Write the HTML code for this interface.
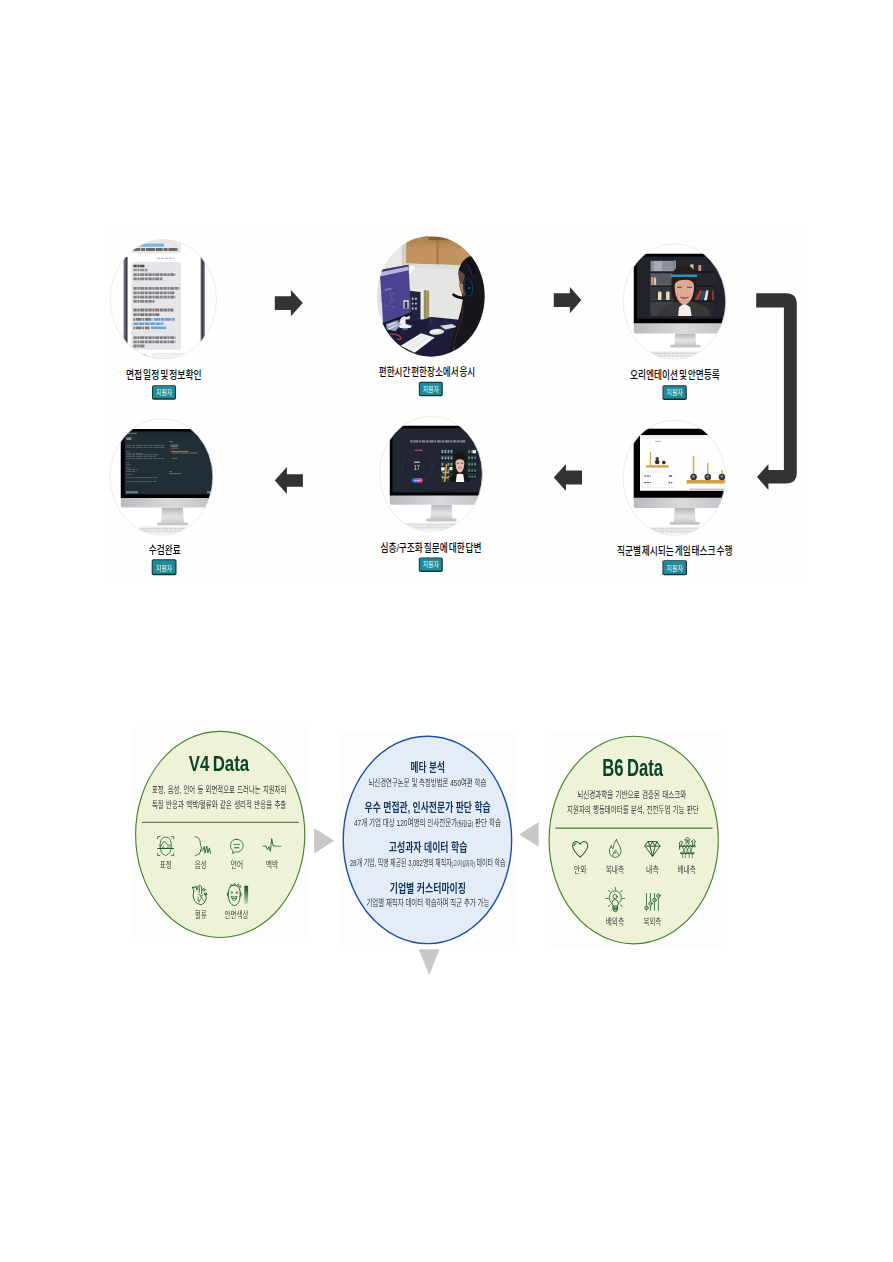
<!DOCTYPE html>
<html lang="ko">
<head>
<meta charset="utf-8">
<title>AI 역량검사 진행 절차 및 분석 데이터</title>
<style>
html,body{margin:0;padding:0;background:#fff;}
body{width:893px;height:1262px;overflow:hidden;position:relative;font-family:'Liberation Sans', 'Noto Sans CJK KR', 'NanumGothic', sans-serif;}
svg{position:absolute;left:0;top:0;display:block;}
svg text{font-family:'Liberation Sans', 'Noto Sans CJK KR', 'NanumGothic', sans-serif;white-space:pre;}
</style>
</head>
<body>
<svg width="893" height="1262" viewBox="0 0 893 1262">
<g opacity="0.999">
<!-- figure 1 : process flow -->
<defs>
<linearGradient id="silver" x1="0" y1="0" x2="1" y2="0"><stop offset="0" stop-color="#b9babd"/><stop offset="0.5" stop-color="#d9dadc"/><stop offset="1" stop-color="#bfc0c3"/></linearGradient>
<linearGradient id="stand" x1="0" y1="0" x2="0" y2="1"><stop offset="0" stop-color="#b4b5b8"/><stop offset="0.6" stop-color="#e4e4e6"/><stop offset="1" stop-color="#c9cacc"/></linearGradient>
<filter id="soft" x="-5%" y="-5%" width="110%" height="110%"><feGaussianBlur stdDeviation="0.45"/></filter>
<filter id="soft2" x="-5%" y="-5%" width="110%" height="110%"><feGaussianBlur stdDeviation="0.8"/></filter>
<clipPath id="cp1"><ellipse cx="163.3" cy="299.2" rx="53.2" ry="59.8"/></clipPath>
<clipPath id="cp2"><ellipse cx="430.8" cy="296.3" rx="53.9" ry="60.4"/></clipPath>
<clipPath id="cp3"><ellipse cx="674.5" cy="301.5" rx="51.3" ry="57.8"/></clipPath>
<clipPath id="cp4"><ellipse cx="161.5" cy="477.0" rx="51.4" ry="58.3"/></clipPath>
<clipPath id="cp5"><ellipse cx="431.0" cy="474.0" rx="51.4" ry="57.7"/></clipPath>
<clipPath id="cp6"><ellipse cx="674.3" cy="477.8" rx="51.2" ry="57.7"/></clipPath>
</defs>
<rect x="104" y="229.5" width="702" height="349.5" fill="#fefefe"/>
<g clip-path="url(#cp1)"><g filter="url(#soft)"><rect x="108.10000000000001" y="237.39999999999998" width="110.4" height="123.6" fill="#fdfdfd"/><rect x="123.6" y="257" width="4.2" height="92" fill="#6b6d78"/><rect x="125.6" y="257" width="1.6" height="92" fill="#3c3e48"/><rect x="200.4" y="257" width="4.4" height="92" fill="#6b6d78"/><rect x="201.6" y="257" width="1.8" height="92" fill="#3c3e48"/><rect x="127.8" y="236" width="72.6" height="130" fill="#fff"/><rect x="131.5" y="234" width="49.5" height="19.6" rx="3" fill="#e6e6eb"/><rect x="135" y="243.6" width="29" height="3.2" fill="#6fa8e6" opacity="0.85"/><path d="M150 237.6H173" stroke="#555" stroke-width="1.6" stroke-dasharray="5 1 3 1"/><path d="M133.4 249.6H178" stroke="#333" stroke-width="3" stroke-dasharray="7 0.8 4 0.8 9 0.8" opacity="0.7"/><path d="M157 258.3H174" stroke="#bbb" stroke-width="1.2" stroke-dasharray="3 1"/><rect x="131.2" y="262" width="49.8" height="88" rx="3.2" fill="#e5e5ea"/><path d="M133.4 266.0h11" stroke="#1a1a1a" stroke-width="2.6" stroke-dasharray="3.4 0.6 2.2 0.6 4.2 0.6 2.8 0.6" opacity="0.75"/><path d="M133.4 270.0h14" stroke="#444" stroke-width="2.4" stroke-dasharray="3.4 0.6 2.2 0.6 4.2 0.6 2.8 0.6" opacity="0.5"/><path d="M133.4 274.6h42" stroke="#333" stroke-width="2.8" stroke-dasharray="3.4 0.6 2.2 0.6 4.2 0.6 2.8 0.6" opacity="0.55"/><path d="M133.4 278.9h29" stroke="#333" stroke-width="2.8" stroke-dasharray="3.4 0.6 2.2 0.6 4.2 0.6 2.8 0.6" opacity="0.55"/><path d="M133.4 288.4h46" stroke="#333" stroke-width="2.8" stroke-dasharray="3.4 0.6 2.2 0.6 4.2 0.6 2.8 0.6" opacity="0.55"/><path d="M133.4 292.8h41" stroke="#333" stroke-width="2.8" stroke-dasharray="3.4 0.6 2.2 0.6 4.2 0.6 2.8 0.6" opacity="0.55"/><path d="M133.4 297.2h42" stroke="#333" stroke-width="2.8" stroke-dasharray="3.4 0.6 2.2 0.6 4.2 0.6 2.8 0.6" opacity="0.55"/><path d="M133.4 301.4h21" stroke="#333" stroke-width="2.8" stroke-dasharray="3.4 0.6 2.2 0.6 4.2 0.6 2.8 0.6" opacity="0.55"/><path d="M133.4 310.0h40" stroke="#333" stroke-width="2.8" stroke-dasharray="3.4 0.6 2.2 0.6 4.2 0.6 2.8 0.6" opacity="0.6"/><path d="M133.4 314.6h26" stroke="#333" stroke-width="2.8" stroke-dasharray="3.4 0.6 2.2 0.6 4.2 0.6 2.8 0.6" opacity="0.6"/><path d="M133.4 337.6h42" stroke="#333" stroke-width="2.8" stroke-dasharray="3.4 0.6 2.2 0.6 4.2 0.6 2.8 0.6" opacity="0.55"/><path d="M133.4 341.8h42" stroke="#333" stroke-width="2.8" stroke-dasharray="3.4 0.6 2.2 0.6 4.2 0.6 2.8 0.6" opacity="0.55"/><path d="M133.4 346.0h11" stroke="#333" stroke-width="2.8" stroke-dasharray="3.4 0.6 2.2 0.6 4.2 0.6 2.8 0.6" opacity="0.55"/><path d="M133.4 319.4h19" stroke="#333" stroke-width="2.8" stroke-dasharray="1.5 0.8 6 0.8" opacity="0.6"/><path d="M154 319.4h20.6" stroke="#3b8ad8" stroke-width="2.6" stroke-dasharray="6 0.6 4 0.6" opacity="0.75"/><path d="M133.4 323.8h30" stroke="#3b8ad8" stroke-width="2.6" stroke-dasharray="5 0.6" opacity="0.75"/><path d="M133.4 327.8h16" stroke="#333" stroke-width="2.8" stroke-dasharray="1.5 0.8 6 0.8" opacity="0.6"/><path d="M151 327.8h15" stroke="#3b8ad8" stroke-width="2.6" opacity="0.7"/><rect x="152" y="353.4" width="36" height="6" rx="3" fill="#f1f1f3" stroke="#d8d8dc" stroke-width="0.5"/><path d="M140 355.5q5 -2 9 3" stroke="#8a8d96" stroke-width="1.6" fill="none"/></g></g><ellipse cx="163.3" cy="299.2" rx="53.2" ry="59.8" fill="none" stroke="#e6e6e6" stroke-width="0.8"/>
<text x="126.0" y="378.7" textLength="75.6" lengthAdjust="spacingAndGlyphs" font-size="10.9" font-weight="500" fill="#0a0a0a" word-spacing="-1.9">면접 일정 및 정보확인</text>
<rect x="152.0" y="385.2" width="24.0" height="14.5" rx="1.8" fill="#1b2c31"/><rect x="152.9" y="386.09999999999997" width="22.0" height="12.2" rx="0.9" fill="#1c8c99"/><text x="156.0" y="395.0" textLength="16.2" lengthAdjust="spacingAndGlyphs" font-size="7.4" font-weight="400" fill="#fff" >지원자</text>
<path d="M274.8 296.20000000000005H290.9V289.90000000000003L302.8 303.1L290.9 316.3V310.0H274.8Z" fill="#333"/>
<g clip-path="url(#cp2)"><g filter="url(#soft)"><g transform="translate(370 230) scale(0.134378)"><rect x="0" y="0" width="893" height="967" fill="#e3e3e0"/><rect x="0" y="0" width="272" height="300" fill="#e9e9e6"/><rect x="236" y="0" width="36" height="262" fill="#cfd0cc"/><path d="M270 0H893V268L270 250Z" fill="#bb8d5a"/><path d="M270 130H893V268L270 250Z" fill="#c3945f"/><path d="M270 0H893V100H270Z" fill="#ad7f4d" opacity="0.55"/><rect x="492" y="0" width="22" height="262" fill="#a87947" opacity="0.8"/><rect x="436" y="30" width="180" height="22" fill="#e6dccb" opacity="0.9"/><rect x="436" y="50" width="300" height="26" fill="#7d5530" opacity="0.8"/><path d="M270 250L893 268V700H270Z" fill="#e5e5e3"/><path d="M270 250L893 268V300L270 280Z" fill="#d8d8d5" opacity="0.7"/><path d="M300 262L332 272L306 326L290 318Z" fill="#ffffff"/><path d="M0 700L300 662L460 648L893 690V967H0Z" fill="#1d1f37"/><path d="M440 650L470 648L478 700L440 700Z" fill="#2a2d4a"/><path d="M480 660L700 676L560 760L420 740Z" fill="#23264a" opacity="0.7"/><path d="M330 436L402 444V664L330 670Z" fill="#ecebe6"/><path d="M400 446L420 448V660L400 664Z" fill="#7f9a58"/><path d="M418 448L440 452V652L418 660Z" fill="#a5925e"/><path d="M296 452L376 462V672L296 676Z" fill="#22253c"/><path d="M318 505v100M342 505v100" stroke="#d6d6da" stroke-width="12" stroke-dasharray="14 22"/><path d="M98 690L308 606L312 630L104 716Z" fill="#12132a"/><path d="M72 298L286 258L306 610L98 692Z" fill="#4c4390"/><path d="M72 298L286 258L288 300L74 346Z" fill="#b9b4e6"/><path d="M72 298L286 258L287 272L73 314Z" fill="#3b3a6a"/><ellipse cx="120" cy="505" rx="38" ry="62" fill="none" stroke="#7d74c4" stroke-width="5" stroke-dasharray="12 6"/><path d="M112 450Q140 430 160 440" stroke="#c9c6ee" stroke-width="5" fill="none"/><path d="M172 470v130" stroke="#8a82c8" stroke-width="6" stroke-dasharray="10 40"/><rect x="248" y="522" width="40" height="62" fill="#cfd0e0"/><rect x="258" y="534" width="20" height="48" fill="#34344a"/><path d="M236 650L262 640L266 700L312 712L300 730L224 730L208 712Z" fill="#eef0f6"/><path d="M120 700L200 672L232 700L190 752L126 740Z" fill="#a9b4cc" opacity="0.9"/><path d="M130 712L190 690M140 736L200 706" stroke="#e6ecf6" stroke-width="8"/><path d="M240 736h40" stroke="#8ab6e0" stroke-width="8"/><path d="M150 775Q210 770 230 800Q232 822 200 812" stroke="#c43a3a" stroke-width="9" fill="none"/><path d="M228 862L380 768L482 800L332 914Z" fill="#f2f2f2"/><path d="M262 866L400 782M296 886L436 794" stroke="#dcdce0" stroke-width="6"/><path d="M520 712L610 700L648 722L560 740Z" fill="#d9dad8"/><ellipse cx="496" cy="758" rx="56" ry="22" transform="rotate(-4 496 758)" fill="#e2e3e1"/><ellipse cx="486" cy="752" rx="36" ry="11" transform="rotate(-4 486 752)" fill="#f4f4f3"/><path d="M742 196Q690 214 662 290Q650 330 672 372L690 520Q680 600 650 690Q610 790 600 870L560 967H893V196Z" fill="#19181b"/><path d="M664 300Q652 340 668 392Q660 420 672 444L700 500L716 470L704 330Z" fill="#5e463d"/><path d="M660 396Q672 420 674 450L692 474L696 404Z" fill="#a07c6a"/><path d="M690 560Q700 640 660 720Q640 780 620 860" stroke="#4a2a22" stroke-width="10" fill="none" opacity="0.7"/><path d="M724 226Q760 240 776 330" stroke="#0b0c12" stroke-width="34" fill="none"/><path d="M716 250Q748 270 762 340" stroke="#24469a" stroke-width="5" fill="none" opacity="0.8"/><ellipse cx="736" cy="420" rx="42" ry="82" transform="rotate(-6 736 420)" fill="#101218"/><ellipse cx="732" cy="424" rx="32" ry="68" transform="rotate(-6 732 424)" fill="none" stroke="#27499c" stroke-width="6" opacity="0.85"/><circle cx="738" cy="432" r="6" fill="#9aa0b4"/><path d="M716 506Q660 508 622 482" stroke="#0c0d12" stroke-width="20" fill="none" stroke-linecap="round"/><path d="M626 870Q618 900 624 930" stroke="#2b5ac0" stroke-width="6" fill="none"/></g></g></g>
<text x="378.8" y="375.7" textLength="96.4" lengthAdjust="spacingAndGlyphs" font-size="10.9" font-weight="500" fill="#0a0a0a" word-spacing="-1.9">편한시간 편한장소에서 응시</text>
<rect x="418.8" y="381.8" width="24.0" height="14.5" rx="1.8" fill="#1b2c31"/><rect x="419.7" y="382.7" width="22.0" height="12.2" rx="0.9" fill="#1c8c99"/><text x="422.7" y="391.6" textLength="16.2" lengthAdjust="spacingAndGlyphs" font-size="7.4" font-weight="400" fill="#fff" >지원자</text>
<path d="M553.8 293.20000000000005H569.9V286.90000000000003L581.4 300.1L569.9 313.3V307.0H553.8Z" fill="#333"/>
<g clip-path="url(#cp3)"><g filter="url(#soft)"><rect x="621.2" y="241.7" width="106.6" height="119.6" fill="#fff"/><rect x="645" y="351.4" width="55" height="6.400000000000034" rx="1" fill="#ececee"/><path d="M646 353.4H699M646 355.79999999999995H699" stroke="#c9cace" stroke-width="1.1" stroke-dasharray="1.6 1"/><path d="M675.2 333.6H695.4L696.1999999999999 345.2H674.4000000000001Z" fill="url(#stand)"/><rect x="670.2" y="344.79999999999995" width="30.199999999999932" height="2.8" rx="1" fill="#c3c4c7"/><rect x="633.8" y="253.8" width="97.0" height="79.80000000000001" rx="2.2" fill="url(#silver)"/><path d="M633.8 256.0Q633.8 253.8 636.0 253.8H730.8V323.3H633.8Z" fill="#050506"/><g transform="translate(615 240) scale(0.134378)"><rect x="164" y="124" width="740" height="462" fill="#21222d"/><rect x="262" y="152" width="474" height="414" fill="#26282d"/><rect x="262" y="152" width="180" height="414" fill="#3c4046"/><rect x="266" y="156" width="172" height="76" fill="#8e9298"/><rect x="290" y="156" width="60" height="76" fill="#b4b8bc" opacity="0.7"/><rect x="266" y="250" width="172" height="86" fill="#555a60"/><rect x="266" y="352" width="172" height="94" fill="#33363b"/><rect x="440" y="152" width="14" height="90" fill="#8a8e94"/><path d="M262 238H736M262 342H736M262 452H736" stroke="#14151a" stroke-width="12"/><path d="M262 232H440M262 336H440M262 446H440" stroke="#a9adb2" stroke-width="4" opacity="0.6"/><rect x="268" y="276" width="18" height="58" fill="#c79a78"/><rect x="290" y="280" width="16" height="54" fill="#d8c9b4"/><rect x="320" y="384" width="26" height="62" rx="8" fill="#e6e2b8"/><rect x="380" y="384" width="26" height="62" rx="8" fill="#e6e2b8"/><rect x="560" y="180" width="24" height="46" rx="8" fill="#cfc9a0"/><rect x="620" y="186" width="22" height="44" rx="6" fill="#d09070"/><path d="M590 446l40 -72l22 6l-30 68z" fill="#9a3c2c"/><path d="M628 448l30 -72l20 4l-22 68z" fill="#2f4a78"/><path d="M662 448l18 -74l16 2l-12 72z" fill="#ece8dc"/><rect x="722" y="376" width="12" height="72" fill="#a03c30"/><path d="M322 566Q330 490 420 470L470 450H560L612 470Q700 490 712 566Z" fill="#38383b"/><path d="M470 566L476 500L516 470L560 500L570 566Z" fill="#f3efea"/><path d="M420 330Q416 190 516 186Q612 190 606 330Q612 430 580 462H452Q414 430 420 330Z" fill="#2a1f1d"/><path d="M444 350Q444 280 516 278Q588 280 588 350Q588 420 552 462Q516 500 480 462Q444 420 444 350Z" fill="#dcaa94"/><path d="M440 330Q450 250 520 262Q580 256 592 330Q560 290 516 298Q470 292 440 330Z" fill="#2a1f1d"/><path d="M486 426Q516 444 546 426Q516 436 486 426Z" fill="#b4463f" stroke="#b4463f" stroke-width="6"/><path d="M462 352h36M536 352h36" stroke="#5a4038" stroke-width="8"/><path d="M470 380l14 10M562 380l-14 10M516 350v30" stroke="#e8eef2" stroke-width="5" stroke-dasharray="5 5" opacity="0.8"/><rect x="415" y="257" width="196" height="18" fill="#1aa3bd"/></g></g></g><ellipse cx="674.5" cy="301.5" rx="51.3" ry="57.8" fill="none" stroke="#e6e6e6" stroke-width="0.8"/>
<text x="630.0" y="378.7" textLength="89.8" lengthAdjust="spacingAndGlyphs" font-size="10.9" font-weight="500" fill="#0a0a0a" word-spacing="-1.9">오리엔테이션 및 안면등록</text>
<rect x="662.5" y="385.3" width="24.3" height="14.7" rx="1.8" fill="#1b2c31"/><rect x="663.4" y="386.2" width="22.3" height="12.399999999999999" rx="0.9" fill="#1c8c99"/><text x="666.5" y="395.3" textLength="16.2" lengthAdjust="spacingAndGlyphs" font-size="7.4" font-weight="400" fill="#fff" >지원자</text>
<path d="M756.2 293.2H785.8Q796.8 293.2 796.8 304.2V472.6Q796.8 483.6 785.8 483.6H768.4V490L757 477L768.4 463.9V470.1H783.9V307.4H756.2Z" fill="#333"/>
<g clip-path="url(#cp6)"><g filter="url(#soft)"><rect x="621.0999999999999" y="418.1" width="106.4" height="119.4" fill="#fff"/><rect x="651" y="526.8" width="49" height="7.0" rx="1" fill="#ececee"/><path d="M652 528.8H699M652 531.1999999999999H699" stroke="#c9cace" stroke-width="1.1" stroke-dasharray="1.6 1"/><path d="M674.6 508.0H694.8L695.5999999999999 522.4H673.8000000000001Z" fill="url(#stand)"/><rect x="669.6" y="522.0" width="30.199999999999932" height="2.8" rx="1" fill="#c3c4c7"/><rect x="633.7" y="428.8" width="96.79999999999995" height="79.19999999999999" rx="2.2" fill="url(#silver)"/><path d="M633.7 431.0Q633.7 428.8 635.9000000000001 428.8H730.5V497.8H633.7Z" fill="#050506"/><rect x="640" y="435.2" width="92" height="55.6" fill="#fdfdfd"/><rect x="640" y="435.2" width="92" height="3.2" fill="#f1f1f1"/><path d="M655 441.4h6" stroke="#999" stroke-width="0.8"/><rect x="646.2" y="465.2" width="22.4" height="2.4" fill="#d3a24a"/><rect x="649.8" y="452" width="1.3" height="13.4" fill="#d8ab55"/><circle cx="657.2" cy="462" r="2.3" fill="#2b2d33"/><circle cx="657.2" cy="458.6" r="1.7" fill="#3a3c42"/><circle cx="663.8" cy="462.6" r="1.8" fill="#2b2d33"/><rect x="642.6" y="472" width="31" height="15.6" fill="#fff" stroke="#e3e3e6" stroke-width="0.5"/><path d="M644 476h7M644 482.6h7" stroke="#555" stroke-width="1" stroke-dasharray="2.4 0.6"/><path d="M669 476h3" stroke="#555" stroke-width="1.4"/><path d="M668.6 482.6h1.6" stroke="#2a90d8" stroke-width="2"/><path d="M671 482.6h1.3" stroke="#555" stroke-width="1.2"/><rect x="686.6" y="480" width="46" height="3.6" fill="#d0a04a"/><rect x="692.8" y="456" width="1.5" height="24" fill="#d8ab55"/><rect x="707" y="463" width="1.5" height="17" fill="#d8ab55"/><rect x="721.4" y="470" width="1.5" height="10" fill="#d8ab55"/><circle cx="693.6" cy="477" r="3.3" fill="#34363c"/><circle cx="707.8" cy="477" r="3.3" fill="#34363c"/><circle cx="722" cy="477" r="3.3" fill="#34363c"/><circle cx="693.4" cy="476.4" r="1.3" fill="#8a8d94"/><circle cx="707.6" cy="476.4" r="1.3" fill="#8a8d94"/><circle cx="721.8" cy="476.4" r="1.3" fill="#8a8d94"/><path d="M690 489.2h42" stroke="#777" stroke-width="0.8" stroke-dasharray="2 0.6"/></g></g><ellipse cx="674.3" cy="477.8" rx="51.2" ry="57.7" fill="none" stroke="#e6e6e6" stroke-width="0.8"/>
<text x="616.9" y="554.9" textLength="115.6" lengthAdjust="spacingAndGlyphs" font-size="10.9" font-weight="500" fill="#0a0a0a" word-spacing="-1.9">직군별 제시되는 게임 태스크 수행</text>
<rect x="662.4" y="560.2" width="24.6" height="15.1" rx="1.8" fill="#1b2c31"/><rect x="663.3" y="561.1" width="22.6" height="12.8" rx="0.9" fill="#1c8c99"/><text x="666.6" y="570.6" textLength="16.2" lengthAdjust="spacingAndGlyphs" font-size="7.4" font-weight="400" fill="#fff" >지원자</text>
<g transform="translate(1135.8 0) scale(-1 1)"><path d="M553.8 470.6H569.9V464.1L582.0 477.5L569.9 490.9V484.4H553.8Z" fill="#333"/></g>
<g clip-path="url(#cp5)"><g filter="url(#soft)"><rect x="377.6" y="414.3" width="106.8" height="119.4" fill="#fff"/><rect x="404" y="522.8" width="52" height="7.2000000000000455" rx="1" fill="#ececee"/><path d="M405 524.8H455M405 527.1999999999999H455" stroke="#c9cace" stroke-width="1.1" stroke-dasharray="1.6 1"/><path d="M431.4 504.8H451.6L452.40000000000003 519.0H430.59999999999997Z" fill="url(#stand)"/><rect x="426.4" y="518.6" width="30.200000000000045" height="2.8" rx="1" fill="#c3c4c7"/><rect x="389.8" y="425.7" width="97.59999999999997" height="79.10000000000002" rx="2.2" fill="url(#silver)"/><path d="M389.8 427.9Q389.8 425.7 392.0 425.7H487.4V495.4H389.8Z" fill="#050506"/><g transform="translate(395 435) scale(0.100784)"><rect x="-24" y="-65" width="960" height="634" fill="#232630"/><path d="M150 64H700" stroke="#dcdde2" stroke-width="22" stroke-dasharray="26 8 44 8 18 8 36 8" opacity="0.5"/><circle cx="218" cy="300" r="150" fill="none" stroke="#3f6088" stroke-width="7" stroke-dasharray="8 14" opacity="0.9"/><path d="M150 440Q218 480 290 440" stroke="#232630" stroke-width="40" fill="none"/><path d="M196 156Q230 146 262 152" stroke="#d86a78" stroke-width="8" fill="none"/><path d="M262 140v22" stroke="#e0566a" stroke-width="7"/><rect x="190" y="262" width="56" height="15" fill="#c4c7d0" opacity="0.85"/><text x="187" y="348" textLength="60" lengthAdjust="spacingAndGlyphs" font-size="76" font-weight="400" fill="#e6e8ee">17</text><rect x="168" y="430" width="108" height="42" rx="21" fill="#3f6ee0"/><path d="M222 430h33a21 21 0 0 1 0 42h-33z" fill="#e0506a"/><rect x="200" y="430" width="40" height="42" fill="#8a5fb0"/><path d="M196 451h52" stroke="#f1f1f6" stroke-width="10" stroke-dasharray="14 5" opacity="0.8"/><rect x="455" y="140" width="352" height="326" fill="#18242b"/><rect x="455" y="140" width="120" height="326" fill="#22343c"/><rect x="720" y="140" width="87" height="326" fill="#1f3038"/><path d="M470 150v300M500 150v120M530 150v300M560 150v180" stroke="#b9c4c8" stroke-width="16" stroke-dasharray="34 30" opacity="0.75"/><path d="M735 150v300M765 150v300M795 150v300" stroke="#9fb0b8" stroke-width="14" stroke-dasharray="30 34" opacity="0.7"/><rect x="458" y="320" width="36" height="30" fill="#f2f2ee"/><rect x="540" y="318" width="30" height="30" fill="#e6e8e4"/><rect x="770" y="150" width="34" height="36" fill="#e8ece8"/><path d="M455 190H580M455 250H580M455 310H580M455 370H580M455 430H580M720 190H807M720 250H807M720 310H807M720 370H807M720 430H807" stroke="#0f181c" stroke-width="12"/><path d="M512 290L492 466M470 372H540M466 424H532" stroke="#c9a458" stroke-width="15"/><path d="M540 466Q548 400 600 384L640 360L690 384Q740 400 748 466Z" fill="#121317"/><path d="M604 466L612 392L644 368L678 392L688 466Z" fill="#f6f4f1"/><path d="M584 270Q580 170 644 166Q708 170 704 270Q708 350 690 384H598Q580 350 584 270Z" fill="#1a1415"/><path d="M600 280Q600 220 644 218Q688 220 688 280Q688 330 666 362Q644 384 622 362Q600 330 600 280Z" fill="#e4bda6"/><path d="M598 262Q612 200 650 214Q684 206 692 262Q664 236 644 240Q620 236 598 262Z" fill="#1a1415"/><path d="M626 322Q644 342 664 322Z" fill="#fff" stroke="#b0504e" stroke-width="5"/><path d="M612 280h24M654 280h24" stroke="#4a3430" stroke-width="7"/></g></g></g><ellipse cx="431.0" cy="474.0" rx="51.4" ry="57.7" fill="none" stroke="#e6e6e6" stroke-width="0.8"/>
<text x="380.4" y="551.7" textLength="101.2" lengthAdjust="spacingAndGlyphs" font-size="10.9" font-weight="500" fill="#0a0a0a" word-spacing="-1.9">심층/구조화 질문에 대한 답변</text>
<rect x="418.8" y="557.4" width="24.0" height="14.7" rx="1.8" fill="#1b2c31"/><rect x="419.7" y="558.3" width="22.0" height="12.399999999999999" rx="0.9" fill="#1c8c99"/><text x="422.7" y="567.4" textLength="16.2" lengthAdjust="spacingAndGlyphs" font-size="7.4" font-weight="400" fill="#fff" >지원자</text>
<g transform="translate(577.7 0) scale(-1 1)"><path d="M274.8 474.3H290.8V467.0L302.9 480.5L290.8 494.0V486.7H274.8Z" fill="#333"/></g>
<g clip-path="url(#cp4)"><g filter="url(#soft)"><rect x="108.1" y="416.7" width="106.8" height="120.6" fill="#fff"/><rect x="139.4" y="526.6" width="47.599999999999994" height="7.199999999999932" rx="1" fill="#ececee"/><path d="M140.4 528.6H186M140.4 531.0H186" stroke="#c9cace" stroke-width="1.1" stroke-dasharray="1.6 1"/><path d="M162.0 507.6H183.0L183.8 522.8H161.2Z" fill="url(#stand)"/><rect x="157.0" y="522.4" width="31.0" height="2.8" rx="1" fill="#c3c4c7"/><rect x="120.8" y="428.9" width="97.10000000000001" height="78.70000000000005" rx="2.2" fill="url(#silver)"/><path d="M120.8 431.09999999999997Q120.8 428.9 123.0 428.9H217.9V498.1H120.8Z" fill="#050506"/><rect x="124.7" y="431.8" width="95" height="62.4" fill="#242f36"/><rect x="124.7" y="431.8" width="95" height="3" fill="#1f292f"/><path d="M127 433.4h10" stroke="#9aa4a8" stroke-width="0.6"/><rect x="126.4" y="437.4" width="5" height="2.6" fill="#7f8a90"/><path d="M126.4 445.4h38" stroke="#9aa6ab" stroke-width="0.7" stroke-dasharray="5 0.7 3 0.7 7 0.7" opacity="0.6"/><path d="M126.4 447.6h38" stroke="#9aa6ab" stroke-width="0.7" stroke-dasharray="5 0.7 3 0.7 7 0.7" opacity="0.6"/><path d="M126.4 453.4h17" stroke="#9aa6ab" stroke-width="0.7" stroke-dasharray="5 0.7 3 0.7 7 0.7" opacity="0.6"/><path d="M126.4 454.8h32" stroke="#9aa6ab" stroke-width="0.7" stroke-dasharray="5 0.7 3 0.7 7 0.7" opacity="0.6"/><path d="M126.4 456.6h29" stroke="#9aa6ab" stroke-width="0.7" stroke-dasharray="5 0.7 3 0.7 7 0.7" opacity="0.6"/><path d="M126.4 458.4h38" stroke="#9aa6ab" stroke-width="0.7" stroke-dasharray="5 0.7 3 0.7 7 0.7" opacity="0.6"/><path d="M126.4 464.6h4" stroke="#9aa6ab" stroke-width="0.7" stroke-dasharray="5 0.7 3 0.7 7 0.7" opacity="0.6"/><path d="M126.4 469.4h11" stroke="#9aa6ab" stroke-width="0.7" stroke-dasharray="5 0.7 3 0.7 7 0.7" opacity="0.6"/><path d="M126.4 471.4h10" stroke="#9aa6ab" stroke-width="0.7" stroke-dasharray="5 0.7 3 0.7 7 0.7" opacity="0.6"/><path d="M126.4 474.6h6" stroke="#9aa6ab" stroke-width="0.7" stroke-dasharray="5 0.7 3 0.7 7 0.7" opacity="0.6"/><path d="M126.4 477.4h31" stroke="#9aa6ab" stroke-width="0.7" stroke-dasharray="5 0.7 3 0.7 7 0.7" opacity="0.6"/><path d="M126.4 481.4h30" stroke="#9aa6ab" stroke-width="0.7" stroke-dasharray="5 0.7 3 0.7 7 0.7" opacity="0.6"/><path d="M126.4 451.6h4M126.4 462.6h3M126.4 467.6h3" stroke="#6f7b80" stroke-width="0.6"/><path d="M169 441.6h4M169 471.6h3" stroke="#8a959a" stroke-width="0.6"/><path d="M170.6 445h8M170.6 446.6h7" stroke="#a8b2b6" stroke-width="0.6"/><path d="M170.6 448.4h8" stroke="#c0564a" stroke-width="0.6"/><path d="M170.6 451.4h18" stroke="#a8b2b6" stroke-width="0.6"/><path d="M172 453h26" stroke="#b7a06a" stroke-width="0.6" stroke-dasharray="8 0.6"/><path d="M172 458.4h5M169 473.6h12" stroke="#8a959a" stroke-width="0.6"/><rect x="126" y="491.2" width="12" height="2.2" fill="#5f7f8c"/><rect x="207" y="491.2" width="8" height="2.2" fill="#5f7f8c"/></g></g><ellipse cx="161.5" cy="477.0" rx="51.4" ry="58.3" fill="none" stroke="#e6e6e6" stroke-width="0.8"/>
<text x="148.8" y="554.1" textLength="32.0" lengthAdjust="spacingAndGlyphs" font-size="10.9" font-weight="500" fill="#0a0a0a" word-spacing="-1.9">수검완료</text>
<rect x="151.7" y="559.3" width="24.8" height="15.899999999999999" rx="1.8" fill="#1b2c31"/><rect x="152.6" y="560.1999999999999" width="22.8" height="13.599999999999998" rx="0.9" fill="#1c8c99"/><text x="156.0" y="570.5" textLength="16.2" lengthAdjust="spacingAndGlyphs" font-size="7.4" font-weight="400" fill="#fff" >지원자</text>
<!-- figure 2 : data -->
<defs><linearGradient id="gbar" x1="0" y1="0" x2="0" y2="1"><stop offset="0" stop-color="#1d5a32"/><stop offset="0.25" stop-color="#2f6a42"/><stop offset="1" stop-color="#cddcb8"/></linearGradient></defs>
<rect x="132.5" y="727" width="176" height="214.5" fill="#fdfdfd"/>
<rect x="340" y="732" width="175" height="214" fill="#fdfdfd"/>
<rect x="546" y="731" width="176" height="216" fill="#fdfdfd"/>
<ellipse cx="220.2" cy="834.4" rx="84.6" ry="103.1" fill="#eef3d8" stroke="#43842a" stroke-width="1.15"/>
<ellipse cx="427.45" cy="839.9" rx="84.2" ry="103.7" fill="#e4edf7" stroke="#1f4f9f" stroke-width="1.4"/>
<ellipse cx="633.7" cy="840" rx="84.6" ry="103.8" fill="#eef3d8" stroke="#43842a" stroke-width="1.15"/>
<path d="M314.2 828.1L334.1 840.7L314.2 853.6Z" fill="#c8c8c8"/>
<path d="M538.7 822L519 834.5L538.7 846.8Z" fill="#c8c8c8"/>
<path d="M418.6 949.2H439.4L429.3 975Z" fill="#c8c8c8"/>
<text x="188.8" y="770.6" textLength="60.4" lengthAdjust="spacingAndGlyphs" font-size="22.3" font-weight="700" fill="#0b4326" word-spacing="-1.8">V4 Data</text>
<text x="151.9" y="793.3" textLength="134.4" lengthAdjust="spacingAndGlyphs" font-size="9.3" font-weight="400" fill="#363636" word-spacing="0.8">표정, 음성, 언어 등 외면적으로 드러나는 지원자의</text>
<text x="151.9" y="807.8" textLength="134.4" lengthAdjust="spacingAndGlyphs" font-size="9.3" font-weight="400" fill="#363636" word-spacing="0.8">특질 반응과 맥박/혈류와 같은 생리적 반응을 추출</text>
<path d="M141.8 822.3H298.8" stroke="#2f6b35" stroke-width="1"/>
<text x="410.6" y="771.6" textLength="34.4" lengthAdjust="spacingAndGlyphs" font-size="12.2" font-weight="700" fill="#12365c" >메타 분석</text>
<text x="368.4" y="785.6" textLength="117.9" lengthAdjust="spacingAndGlyphs" font-size="9.1" font-weight="400" fill="#363636" >뇌신경연구논문 및 측정방법론 450여편 학습</text>
<text x="364.6" y="812.2" textLength="126.1" lengthAdjust="spacingAndGlyphs" font-size="12.2" font-weight="700" fill="#12365c" >우수 면접관, 인사전문가 판단 학습</text>
<text x="353.9" y="826.4" textLength="147" lengthAdjust="spacingAndGlyphs" font-size="9.1" fill="#363636">47개 기업 대상 120여명의 인사전문가<tspan font-size="6.5">(팀장급)</tspan> 판단 학습</text>
<text x="388.8" y="852.2" textLength="78.6" lengthAdjust="spacingAndGlyphs" font-size="12.2" font-weight="700" fill="#12365c" >고성과자 데이터 학습</text>
<text x="350.1" y="866.4" textLength="155.2" lengthAdjust="spacingAndGlyphs" font-size="9.1" fill="#363636">28개 기업, 익명 제공된 3,082명의 재직자<tspan font-size="6.5">(고/저성과자)</tspan> 데이터 학습</text>
<text x="389.7" y="892.6" textLength="76.3" lengthAdjust="spacingAndGlyphs" font-size="12.2" font-weight="700" fill="#12365c" >기업별 커스터마이징</text>
<text x="366.4" y="906.4" textLength="122.9" lengthAdjust="spacingAndGlyphs" font-size="9.1" font-weight="400" fill="#363636" >기업별 재직자 데이터 학습하여 직군 추가 가능</text>
<text x="602.3" y="776.3" textLength="60.7" lengthAdjust="spacingAndGlyphs" font-size="23.0" font-weight="700" fill="#0b4326" word-spacing="-1.8">B6 Data</text>
<text x="577.2" y="798.4" textLength="109.1" lengthAdjust="spacingAndGlyphs" font-size="9.3" font-weight="400" fill="#363636" word-spacing="0.6">뇌신경과학을 기반으로 검증된 태스크와</text>
<text x="567.0" y="813.2" textLength="131.6" lengthAdjust="spacingAndGlyphs" font-size="9.3" font-weight="400" fill="#363636" word-spacing="0.6">지원자의 행동데이터를 분석, 전전두엽 기능 판단</text>
<path d="M555.3 828.2H712.5" stroke="#3f7c3a" stroke-width="1.3"/>
<text x="159.7" y="868.0" textLength="12.2" lengthAdjust="spacingAndGlyphs" font-size="8.6" font-weight="400" fill="#3a443a" >표정</text>
<text x="194.7" y="868.0" textLength="12.0" lengthAdjust="spacingAndGlyphs" font-size="8.6" font-weight="400" fill="#3a443a" >음성</text>
<text x="230.4" y="868.0" textLength="12.9" lengthAdjust="spacingAndGlyphs" font-size="8.6" font-weight="400" fill="#3a443a" >언어</text>
<text x="265.7" y="868.0" textLength="12.5" lengthAdjust="spacingAndGlyphs" font-size="8.6" font-weight="400" fill="#3a443a" >맥박</text>
<text x="195.1" y="918.4" textLength="11.6" lengthAdjust="spacingAndGlyphs" font-size="8.6" font-weight="400" fill="#3a443a" >혈류</text>
<text x="224.5" y="918.4" textLength="23.9" lengthAdjust="spacingAndGlyphs" font-size="8.6" font-weight="400" fill="#3a443a" >안면색상</text>
<text x="573.8" y="873.4" textLength="12.7" lengthAdjust="spacingAndGlyphs" font-size="8.6" font-weight="400" fill="#3a443a" >안와</text>
<text x="605.7" y="873.4" textLength="18.5" lengthAdjust="spacingAndGlyphs" font-size="8.6" font-weight="400" fill="#3a443a" >복내측</text>
<text x="646.0" y="873.4" textLength="12.8" lengthAdjust="spacingAndGlyphs" font-size="8.6" font-weight="400" fill="#3a443a" >내측</text>
<text x="677.6" y="873.4" textLength="18.1" lengthAdjust="spacingAndGlyphs" font-size="8.6" font-weight="400" fill="#3a443a" >배내측</text>
<text x="605.7" y="924.8" textLength="18.5" lengthAdjust="spacingAndGlyphs" font-size="8.6" font-weight="400" fill="#3a443a" >배외측</text>
<text x="643.5" y="924.8" textLength="17.8" lengthAdjust="spacingAndGlyphs" font-size="8.6" font-weight="400" fill="#3a443a" >복외측</text>
<g transform="translate(150 830) scale(0.078387)" fill="none" stroke="#1d5a32" stroke-width="10" stroke-linecap="round" stroke-linejoin="round"><path d="M98 112V84H126M274 84H302V112M302 298V326H274M126 326H98V298"/><path d="M128 200Q128 90 200 90Q272 90 272 200Q272 304 200 326Q128 304 128 200Z"/><path d="M132 214Q150 190 178 142Q200 186 268 206" /><path d="M100 236H300" stroke-width="13"/><path d="M160 226L170 212L182 226M220 226L230 212L242 226" stroke-width="9"/><path d="M572 84Q626 90 636 130L646 200L662 238L640 250L648 276L632 290Q640 312 608 314L574 326"/><path d="M650 268L672 262L692 210L702 296L724 204L738 292L758 228L772 300" stroke-width="11"/></g>
<g transform="translate(220 830) scale(0.078387)" fill="none" stroke="#1d5a32" stroke-width="10" stroke-linecap="round" stroke-linejoin="round"><path d="M213 118A82 82 0 1 1 196 280L160 300L166 266A82 82 0 0 1 213 118Z"/><path d="M176 184H250" stroke-width="9"/><path d="M186 226H240" stroke-width="13"/><path d="M550 205H585L606 250L624 212L642 272L660 110L678 204H718" stroke-width="11"/><path d="M736 208H776" stroke-width="10" stroke-dasharray="14 12"/></g>
<g transform="translate(185 878) scale(0.078387)" fill="none" stroke="#1d5a32" stroke-width="11.5" stroke-linecap="round" stroke-linejoin="round"><path d="M112 168Q88 232 120 290Q150 334 206 342Q262 320 270 262Q276 226 252 196"/><path d="M112 168L94 114L120 128L136 100L152 152"/><path d="M152 152Q150 100 184 94Q216 96 212 150V200M182 112V184"/><circle cx="240" cy="150" r="15"/><circle cx="262" cy="204" r="15"/><path d="M168 204Q200 212 214 250Q224 280 242 292M214 250Q190 262 182 302M168 242Q158 272 174 300M196 236L230 214" stroke-width="9"/><path d="M552 200C552 130 580 90 628 90C676 90 704 130 704 200C704 290 672 350 628 350C584 350 552 290 552 200Z"/><path d="M552 186Q534 190 538 214Q542 236 556 236M704 186Q722 190 718 214Q714 236 700 236"/><path d="M574 118L590 78L612 104L632 68L652 102L682 76L688 112L716 98L700 130" stroke-width="9"/><path d="M586 176L612 186L586 196M672 176L646 186L672 196" stroke-width="9"/><path d="M592 236Q628 252 664 236Q660 284 628 288Q596 284 592 236Z" stroke-width="10"/><path d="M606 262H650" stroke-width="9"/></g>
<rect x="244.3" y="885.8" width="3.8" height="18.2" fill="url(#gbar)"/>
<svg x="572.1" y="841" width="16.1" height="16.8" viewBox="0 0 16 17" preserveAspectRatio="none" overflow="visible"><g fill="none" stroke="#1d5a32" stroke-width="1.0" stroke-linecap="round" stroke-linejoin="round"><path d="M8 3.2Q6.4 0.5 3.8 0.6Q0.5 1 0.5 5Q0.6 9.4 8 16.4Q15.4 9.4 15.5 5Q15.5 1 12.2 0.6Q9.6 0.5 8 3.2Z"/><path d="M2.2 4.6Q2.4 2.4 4.2 2.2"/></g></svg>
<g transform="translate(565 832) scale(0.078387)" fill="none" stroke="#1d5a32" stroke-width="10" stroke-linecap="round" stroke-linejoin="round"><path d="M656 96Q676 150 702 190Q726 236 706 282Q684 324 640 326Q590 322 570 278Q554 226 590 172Q594 208 612 214Q616 150 656 96Z"/><path d="M606 302Q616 262 646 228Q680 262 682 298" stroke-width="9"/><path d="M630 270L640 254L648 274" stroke-width="8"/></g>
<svg x="644.5" y="841" width="16" height="15.9" viewBox="0 0 16 16" preserveAspectRatio="none" overflow="visible"><g fill="none" stroke="#1d5a32" stroke-width="0.95" stroke-linecap="round" stroke-linejoin="round"><path d="M3.6 0.6H12.4L15.5 5.2L8 15.5L0.5 5.2Z"/><path d="M0.5 5.2H15.5M3.6 0.6L5.4 5.2L8 15.5L10.6 5.2L12.4 0.6M5.4 5.2L8 0.6L10.6 5.2"/></g></svg>
<g transform="translate(670 830) scale(0.039194)" fill="none" stroke="#1d5a32" stroke-width="21" stroke-linecap="round" stroke-linejoin="round"><path d="M380 250L445 180L510 250H480V370M410 370V250H380M445 250V320"/><path d="M235 330L285 280L335 330M245 330V490M300 330V390"/><path d="M545 295L600 240L655 295H630V400M575 400V295H545"/><path d="M245 430L285 395L325 430L365 395L405 430L445 395L485 430L525 395L565 430L605 395L640 430" stroke-width="30"/><path d="M325 450L385 570M385 450L325 570M415 450L475 570M475 450L415 570M505 450L565 570M565 450L505 570" stroke-width="17"/><path d="M270 580L310 615L350 580L395 615L445 580L490 615L535 580L575 615L610 580" stroke-width="32"/><path d="M320 650V705M390 650V705M490 650V705M570 650V705" stroke-width="19" opacity="0.8"/></g>
<g transform="translate(600 882) scale(0.078387)" fill="none" stroke="#1d5a32" stroke-width="10" stroke-linecap="round" stroke-linejoin="round"><path d="M195 68V100M105 105L130 130M285 105L260 130M75 210H105M285 210H315M105 312L130 292M285 312L260 292"/><path d="M166 300Q162 278 142 262Q116 236 118 200Q124 116 195 112Q266 116 272 200Q274 236 248 262Q228 278 224 300Z"/><path d="M166 300V352Q172 378 195 380Q218 378 224 352V300M166 322H224M166 344H224" stroke-width="11"/><path d="M172 330H218V365H172Z" fill="#1d5a32" stroke="none" opacity="0.55"/><circle cx="192" cy="186" r="27"/><path d="M150 272Q154 226 192 224Q232 226 236 272"/><path d="M593 146V306M645 146V250M645 300V360M695 146V204M695 254V360M745 200V360M593 352V360"/><circle cx="593" cy="330" r="23"/><circle cx="645" cy="275" r="23"/><circle cx="695" cy="229" r="23"/><circle cx="745" cy="175" r="23"/><circle cx="593" cy="330" r="8" stroke-width="7" opacity="0.7"/><circle cx="645" cy="275" r="8" stroke-width="7" opacity="0.7"/><circle cx="695" cy="229" r="8" stroke-width="7" opacity="0.7"/><circle cx="745" cy="175" r="8" stroke-width="7" opacity="0.7"/></g>
</g>
</svg>
</body>
</html>
